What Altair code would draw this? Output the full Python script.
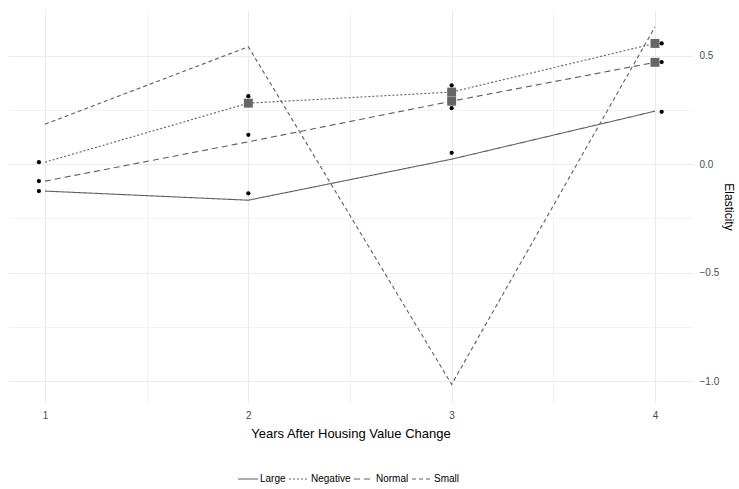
import altair as alt
import pandas as pd

# Fitted elasticity paths by housing value change group
years = [1, 2, 3, 4]
series = ["Large", "Negative", "Normal", "Small"]
large = [-0.124, -0.166, 0.023, 0.244]
negative = [0.009, 0.281, 0.332, 0.556]
normal = [-0.078, 0.103, 0.290, 0.469]
small = [0.184, 0.541, -1.014, 0.632]

# Significant estimates (squares)
sig_x = [2, 3, 3, 4, 4]
sig_y = [0.281, 0.332, 0.290, 0.556, 0.469]

# Point estimates (dots)
pt_x = [0.97, 0.97, 0.97, 2, 2, 2, 3, 3, 3, 4.033, 4.033, 4.033]
pt_y = [0.009, -0.078, -0.124, 0.313, 0.135, -0.134, 0.363, 0.258, 0.052, 0.556, 0.470, 0.241]

rows = []
for name, vals in zip(series, [large, negative, normal, small]):
    for x, y in zip(years, vals):
        rows.append({"year": x, "elasticity": y, "group": name})
lines_df = pd.DataFrame(rows)
sig_df = pd.DataFrame({"year": sig_x, "elasticity": sig_y})
pts_df = pd.DataFrame({"year": pt_x, "elasticity": pt_y})

FONT = "Liberation Sans"
GRID = "#ebebeb"
LINE = "#5f5f5f"

x_scale = alt.Scale(domain=[0.818, 4.187], nice=False, zero=False)
y_scale = alt.Scale(domain=[-1.10, 0.71], nice=False, zero=False)

minor_width = {"condition": {"test": "datum.value % 1 != 0", "value": 0.6}, "value": 1.1}
minor_width_y = {"condition": {"test": "datum.value % 0.5 != 0", "value": 0.6}, "value": 1.1}

x_axis = alt.Axis(
    title="Years After Housing Value Change",
    values=[1, 1.5, 2, 2.5, 3, 3.5, 4],
    labelExpr="datum.value % 1 == 0 ? format(datum.value, 'd') : ''",
    grid=True, gridColor=GRID, gridWidth=minor_width,
    ticks=False, domain=False,
    labelFont=FONT, labelFontSize=10, labelColor="#4d4d4d", labelPadding=7,
    titleFont=FONT, titleFontSize=13, titleFontWeight="normal", titleColor="#000000",
    titlePadding=7,
)
y_axis = alt.Axis(
    title="Elasticity", orient="right",
    values=[-1.0, -0.75, -0.5, -0.25, 0, 0.25, 0.5],
    labelExpr="datum.value % 0.5 == 0 ? format(datum.value, '.1f') : ''",
    grid=True, gridColor=GRID, gridWidth=minor_width_y,
    ticks=False, domain=False,
    labelFont=FONT, labelFontSize=10, labelColor="#4d4d4d", labelPadding=6,
    titleFont=FONT, titleFontSize=12, titleFontWeight="normal", titleColor="#000000",
    titlePadding=3,
)

lines = alt.Chart(lines_df).mark_line(color=LINE, strokeWidth=1.1).encode(
    x=alt.X("year:Q", scale=x_scale, axis=x_axis),
    y=alt.Y("elasticity:Q", scale=y_scale, axis=y_axis),
    strokeDash=alt.StrokeDash(
        "group:N",
        scale=alt.Scale(domain=series, range=[[1, 0], [2, 2], [6, 4], [4, 3]]),
        legend=alt.Legend(
            title=None, orient="none", direction="horizontal",
            legendX=229, legendY=458,
            symbolType="stroke", symbolSize=400, symbolStrokeColor=LINE,
            symbolStrokeWidth=1.1, columnPadding=0, labelOffset=1,
            labelFont=FONT, labelFontSize=10, labelColor="#000000",
        ),
    ),
)

squares = alt.Chart(sig_df).mark_square(size=80, color="#666666", opacity=1).encode(
    x=alt.X("year:Q", scale=x_scale),
    y=alt.Y("elasticity:Q", scale=y_scale),
)

dots = alt.Chart(pts_df).mark_circle(size=18, color="#000000", opacity=1).encode(
    x=alt.X("year:Q", scale=x_scale),
    y=alt.Y("elasticity:Q", scale=y_scale),
)

chart = alt.layer(lines, squares, dots).properties(
    width=685, height=393,
    background="white",
    autosize=alt.AutoSizeParams(type="none"),
    padding={"left": 8, "top": 10, "right": 46, "bottom": 86},
).configure_view(strokeWidth=0, stroke="transparent")

chart.save("out.html", embed_options={"renderer": "svg", "actions": False})
